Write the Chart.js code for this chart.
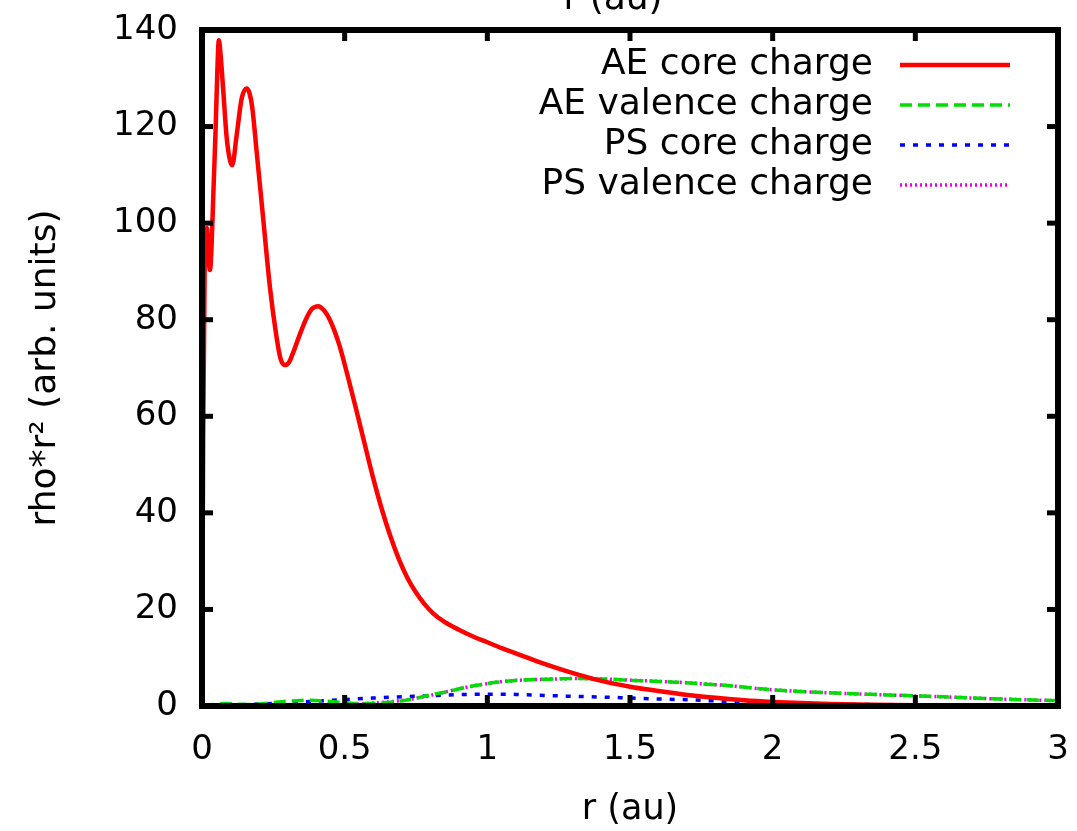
<!DOCTYPE html>
<html><head><meta charset="utf-8">
<script src="https://cdn.jsdelivr.net/npm/chart.js@4.4.0/dist/chart.umd.min.js"></script>
<style>html,body{margin:0;padding:0;background:#fff;overflow:hidden}#wrap{width:1077px;height:831px}</style>
</head><body><div id="wrap"><canvas id="c" width="1077" height="831"></canvas></div>
<script>
const xTickValues = [0, 0.5, 1, 1.5, 2, 2.5, 3];
const yTickValues = [0, 20, 40, 60, 80, 100, 120, 140];
const seriesNames = ['AE core charge', 'AE valence charge', 'PS core charge', 'PS valence charge'];

const aeCoreR = [0,0.004,0.01,0.017,0.024,0.028,0.034,0.04,0.048,0.054,0.059,0.065,0.075,0.086,0.098,0.106,0.121,0.139,0.156,0.166,0.176,0.192,0.215,0.238,0.261,0.275,0.29,0.305,0.32,0.34,0.366,0.385,0.407,0.428,0.448,0.48,0.51,0.54,0.57,0.6,0.63,0.66,0.69,0.72,0.75,0.78,0.81,0.85,0.9,0.95,1.0,1.05,1.1,1.2,1.3,1.4,1.5,1.6,1.7,1.8,1.9,2.0,2.1,2.2,2.35,2.5,2.75,3.0];
const aeCoreV = [0,55,95,99,92,90.3,96,106.5,120,132,137.9,135,127,118,113,112,118,125.8,127.9,127,124,114.5,100.6,86.8,76.5,72,70.6,71.2,73.3,76.5,80.3,82.2,82.8,81.9,80,75,68.5,61.5,54.3,47.2,40.8,35.2,30.4,26.5,23.5,21.1,19.2,17.4,15.8,14.4,13.2,12.0,10.9,8.7,6.8,5.2,4.0,3.1,2.3,1.7,1.2,0.85,0.6,0.42,0.25,0.15,0.06,0.02];

const aeValR = [0,0.04,0.08,0.12,0.16,0.22,0.28,0.33,0.38,0.44,0.5,0.56,0.62,0.68,0.74,0.8,0.86,0.92,0.97,1.03,1.09,1.15,1.21,1.27,1.33,1.39,1.45,1.51,1.57,1.63,1.69,1.75,1.85,1.97,2.1,2.25,2.4,2.55,2.7,2.85,3.0];
const aeValV = [0,0.3,0.5,0.4,0.3,0.5,0.9,1.1,1.2,1.0,0.7,0.5,0.6,0.9,1.5,2.3,3.0,3.8,4.35,4.9,5.25,5.45,5.55,5.65,5.7,5.6,5.5,5.3,5.2,5.0,4.85,4.6,4.2,3.5,3.0,2.6,2.3,2.0,1.65,1.35,1.1];

const psCoreR = [0,0.1,0.2,0.3,0.4,0.5,0.6,0.7,0.8,0.9,1.0,1.1,1.2,1.3,1.4,1.5,1.6,1.7,1.8,1.9,2.0,2.1,2.2,2.4,2.6,2.8,3.0];
const psCoreV = [0,0.2,0.4,0.7,1.0,1.35,1.65,1.9,2.15,2.35,2.45,2.4,2.2,2.0,1.85,1.65,1.45,1.3,1.05,0.85,0.7,0.55,0.4,0.25,0.15,0.08,0.05];

const psValR = [0,0.2,0.35,0.45,0.55,0.62,0.68,0.74,0.8,0.86,0.92,0.97,1.03,1.09,1.15,1.21,1.27,1.33,1.39,1.45,1.51,1.57,1.63,1.69,1.75,1.85,1.97,2.1,2.25,2.4,2.55,2.7,2.85,3.0];
const psValV = [0,0,0.05,0.15,0.4,0.7,1.0,1.5,2.2,3.0,3.8,4.35,4.9,5.25,5.45,5.55,5.65,5.7,5.6,5.5,5.3,5.2,5.0,4.85,4.6,4.2,3.5,3.0,2.6,2.3,2.0,1.65,1.35,1.1];

const FONT = 'DejaVu Sans';
const pts = (r, v) => r.map((x, i) => ({x: x, y: v[i]}));

const datasets = [
  {label: seriesNames[0], data: pts(aeCoreR, aeCoreV), borderColor: '#ff0000', borderWidth: 4.5, borderDash: []},
  {label: seriesNames[1], data: pts(aeValR, aeValV), borderColor: '#00dd00', borderWidth: 3.5, borderDash: [12, 6]},
  {label: seriesNames[2], data: pts(psCoreR, psCoreV), borderColor: '#0000ff', borderWidth: 3.5, borderDash: [5, 8]},
  {label: seriesNames[3], data: pts(psValR, psValV), borderColor: '#ee00ee', borderWidth: 3.5, borderDash: [2, 3]}
].map(d => Object.assign(d, {pointRadius: 0, fill: false, cubicInterpolationMode: 'monotone', borderCapStyle: 'butt'}));

const framePlugin = {
  id: 'frame',
  afterDatasetsDraw(chart) {
    const ctx = chart.ctx, a = chart.chartArea, xs = chart.scales.x, ys = chart.scales.y;
    ctx.save();
    ctx.strokeStyle = '#000';
    ctx.lineWidth = 5;
    const tl = 11;
    xs.ticks.forEach(t => {
      const px = xs.getPixelForValue(t.value);
      ctx.beginPath(); ctx.moveTo(px, a.bottom); ctx.lineTo(px, a.bottom - tl); ctx.stroke();
      ctx.beginPath(); ctx.moveTo(px, a.top); ctx.lineTo(px, a.top + tl); ctx.stroke();
    });
    ys.ticks.forEach(t => {
      const py = ys.getPixelForValue(t.value);
      ctx.beginPath(); ctx.moveTo(a.left, py); ctx.lineTo(a.left + tl, py); ctx.stroke();
      ctx.beginPath(); ctx.moveTo(a.right, py); ctx.lineTo(a.right - tl, py); ctx.stroke();
    });
    ctx.lineWidth = 6;
    ctx.strokeRect(a.left, a.top, a.right - a.left, a.bottom - a.top);
    // legend (gnuplot style key)
    ctx.font = '36px "' + FONT + '"';
    ctx.textAlign = 'right';
    ctx.textBaseline = 'middle';
    ctx.fillStyle = '#000';
    const rows = [65, 105, 145, 185];
    chart.data.datasets.forEach((d, i) => {
      ctx.fillText(d.label, 873, rows[i]);
      ctx.save();
      ctx.strokeStyle = d.borderColor;
      ctx.lineWidth = d.borderWidth;
      ctx.setLineDash(d.borderDash);
      ctx.beginPath(); ctx.moveTo(900, rows[i]); ctx.lineTo(1010, rows[i]); ctx.stroke();
      ctx.restore();
    });
    // clipped top axis title
    ctx.textAlign = 'center';
    ctx.textBaseline = 'alphabetic';
    ctx.fillText('r (au)', 613, 9);
    ctx.restore();
  }
};

const noPad = s => { s.paddingLeft = 0; s.paddingRight = 0; s.paddingTop = 0; s.paddingBottom = 0; };

new Chart(document.getElementById('c'), {
  type: 'line',
  data: {datasets: datasets},
  plugins: [framePlugin],
  options: {
    responsive: false,
    animation: false,
    devicePixelRatio: 1,
    layout: {padding: {left: 0, right: 19, top: 30, bottom: 0}},
    plugins: {legend: {display: false}, tooltip: {enabled: false}},
    scales: {
      x: {
        type: 'linear', min: 0, max: 3,
        afterBuildTicks: s => { s.ticks = xTickValues.map(v => ({value: v})); },
        afterFit: s => { s.height = 125; noPad(s); },
        grid: {display: false, drawTicks: false},
        border: {display: false},
        ticks: {color: '#000', padding: 24, font: {family: FONT, size: 34}, maxRotation: 0, callback: v => String(Number(v))},
        title: {display: true, text: 'r (au)', color: '#000', font: {family: FONT, size: 35}, padding: {top: 0, bottom: 0}}
      },
      y: {
        type: 'linear', min: 0, max: 140,
        afterBuildTicks: s => { s.ticks = yTickValues.map(v => ({value: v})); },
        afterFit: s => { s.width = 202; noPad(s); },
        grid: {display: false, drawTicks: false},
        border: {display: false},
        ticks: {color: '#000', padding: 24, font: {family: FONT, size: 34}, callback: v => String(Number(v))},
        title: {display: true, text: 'rho*r² (arb. units)', color: '#000', font: {family: FONT, size: 36}, padding: {top: 24, bottom: 0}}
      }
    }
  }
});
</script></body></html>
